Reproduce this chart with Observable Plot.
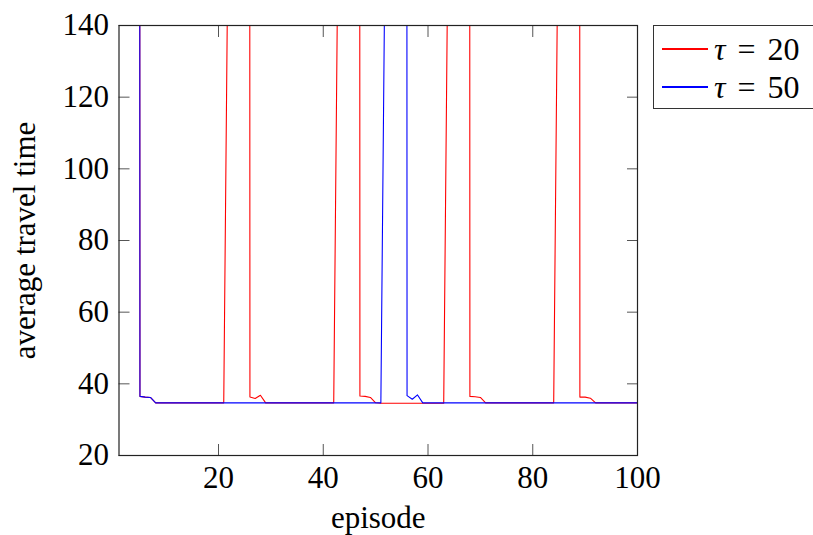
<!DOCTYPE html>
<html><head><meta charset="utf-8">
<script src="https://cdn.jsdelivr.net/npm/d3@7"></script>
<script src="https://cdn.jsdelivr.net/npm/@observablehq/plot@0.6"></script>
<style>
body{margin:0;background:#fff;}
#wrap{position:relative;width:813px;height:535px;overflow:hidden;font-family:"Liberation Serif","Times New Roman",serif;}
#legend{position:absolute;left:653px;top:25px;width:190px;height:84px;border:1px solid #333;background:#fff;box-sizing:border-box;}
.row{position:absolute;left:8px;height:36px;display:flex;align-items:center;font-size:32px;white-space:nowrap;color:#000;font-family:"Liberation Serif","Times New Roman",serif;}
.sw{display:inline-block;width:46px;height:1.2px;margin-right:6px;}
.eq{margin:0 12px;}
svg text{font-family:"Liberation Serif","Times New Roman",serif;}
</style></head>
<body>
<div id="wrap"><div id="chart"></div>
<div id="legend"></div></div>
<script>
const episodes = [1,2,3,4,5,6,7,8,9,10,11,12,13,14,15,16,17,18,19,20,
 21,22,23,24,25,26,27,28,29,30,31,32,33,34,35,36,37,38,39,40,
 41,42,43,44,45,46,47,48,49,50,51,52,53,54,55,56,57,58,59,60,
 61,62,63,64,65,66,67,68,69,70,71,72,73,74,75,76,77,78,79,80,
 81,82,83,84,85,86,87,88,89,90,91,92,93,94,95,96,97,98,99,100];

// tau = 20 (red)
const tau20 = [3500,3500,3500,3500,36.5,36.3,36.2,34.7,34.7,34.7,
 34.7,34.7,34.7,34.7,34.7,34.7,34.7,34.7,34.7,34.7,
 34.7,194,1500,2500,4000,36.3,35.9,36.8,34.7,34.7,
 34.7,34.7,34.7,34.7,34.7,34.7,34.7,34.7,34.7,34.7,
 34.7,34.7,194,1500,2500,4000,36.6,36.5,36.2,34.7,
 34.6,34.6,34.6,34.6,34.6,34.6,34.6,34.6,34.6,34.6,
 34.6,34.6,34.6,194,1500,2500,4000,36.5,36.4,36.2,
 34.7,34.7,34.7,34.7,34.7,34.7,34.7,34.7,34.7,34.7,
 34.7,34.7,34.7,34.7,194,1500,2500,4000,36.3,36.3,
 36.0,34.7,34.7,34.7,34.7,34.7,34.7,34.7,34.7,34.7];

// tau = 50 (blue)
const tau50 = [3500,3500,3500,3500,36.5,36.3,36.2,34.7,34.7,34.7,
 34.7,34.7,34.7,34.7,34.7,34.7,34.7,34.7,34.7,34.7,
 34.7,34.7,34.7,34.7,34.7,34.7,34.7,34.7,34.7,34.7,
 34.7,34.7,34.7,34.7,34.7,34.7,34.7,34.7,34.7,34.7,
 34.7,34.7,34.7,34.7,34.7,34.7,34.7,34.7,34.7,34.7,
 34.7,194,1500,2500,4000,36.7,35.7,36.9,34.7,34.7,
 34.7,34.7,34.7,34.7,34.7,34.7,34.7,34.7,34.7,34.7,
 34.7,34.7,34.7,34.7,34.7,34.7,34.7,34.7,34.7,34.7,
 34.7,34.7,34.7,34.7,34.7,34.7,34.7,34.7,34.7,34.7,
 34.7,34.7,34.7,34.7,34.7,34.7,34.7,34.7,34.7,34.7];

const seriesNames = ["20", "50"];
const seriesColors = ["#ff0000", "#0000ff"];
const xTicks = [20, 40, 60, 80, 100];
const yTicks = [20, 40, 60, 80, 100, 120, 140];

const rows20 = episodes.map((e, i) => ({episode: e, value: tau20[i]}));
const rows50 = episodes.map((e, i) => ({episode: e, value: tau50[i]}));

const tickStroke = "#555";
const chart = Plot.plot({
  width: 813, height: 535,
  marginLeft: 118.5, marginRight: 176, marginTop: 25, marginBottom: 80,
  style: {fontFamily: "'Liberation Serif', 'Times New Roman', serif", fontSize: "31px", background: "white", color: "#000", overflow: "visible"},
  x: {domain: [1, 100]},
  y: {domain: [20, 140]},
  marks: [
    Plot.lineY(rows20, {x: "episode", y: "value", stroke: seriesColors[0], strokeWidth: 1.1, clip: true}),
    Plot.lineY(rows50, {x: "episode", y: "value", stroke: seriesColors[1], strokeWidth: 1.1, clip: true}),
    Plot.axisX(xTicks, {anchor: "bottom", tickSize: -11, fill: "none", stroke: tickStroke, label: null}),
    Plot.axisX(xTicks, {anchor: "top", tickSize: -11, fill: "none", stroke: tickStroke, label: null}),
    Plot.axisY(yTicks, {anchor: "left", tickSize: -11, fill: "none", stroke: tickStroke, label: null}),
    Plot.axisY(yTicks, {anchor: "right", tickSize: -11, fill: "none", stroke: tickStroke, label: null}),
    Plot.axisX(xTicks, {anchor: "bottom", tickSize: 0, tickPadding: 10, label: "episode", labelAnchor: "center", labelArrow: "none", labelOffset: 72}),
    Plot.axisY(yTicks, {anchor: "left", tickSize: 0, tickPadding: 10, label: "average travel time", labelAnchor: "center", labelArrow: "none", labelOffset: 106}),
    Plot.frame({stroke: "#222", strokeWidth: 1.2})
  ]
});
document.getElementById("chart").appendChild(chart);

const legend = document.getElementById("legend");
seriesNames.forEach((name, i) => {
  const row = document.createElement("div");
  row.className = "row";
  row.style.top = (5 + i * 38) + "px";
  row.innerHTML = `<span class="sw" style="background:${seriesColors[i]}"></span><i>τ</i><span class="eq">=</span>${name}`;
  legend.appendChild(row);
});
</script>
</body></html>
